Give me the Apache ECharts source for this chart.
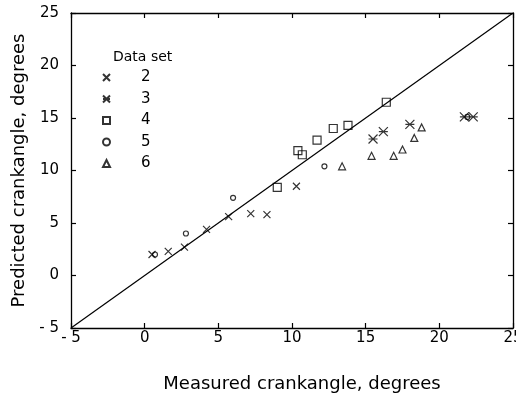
<!DOCTYPE html>
<html><head><meta charset="utf-8">
<script src="https://cdn.jsdelivr.net/npm/echarts@6/dist/echarts.min.js"></script>
<style>html,body{margin:0;padding:0;background:#fff}#c{width:516px;height:395px}</style>
</head><body><div id="c"></div>
<script>
const xTicks = [-5, 0, 5, 10, 15, 20, 25];
const yTicks = [-5, 0, 5, 10, 15, 20, 25];
const legendTitle = 'Data set';
const setNames = ['2', '3', '4', '5', '6'];
const set2 = [[0.5,2.0],[1.6,2.3],[2.7,2.7],[4.2,4.4],[5.7,5.6],[7.2,5.9],[8.3,5.8],[10.3,8.5]];
const set3 = [[15.5,13.0],[16.2,13.7],[18.0,14.4],[21.7,15.1],[22.3,15.1]];
const set4 = [[9.0,8.4],[10.4,11.9],[10.7,11.5],[11.7,12.9],[12.8,14.0],[13.8,14.3],[16.4,16.5]];
const set5 = [[0.7,2.0],[2.8,4.0],[6.0,7.4],[12.2,10.4],[21.9,15.1]];
const set6 = [[13.4,10.4],[15.4,11.4],[16.9,11.4],[17.5,12.0],[18.3,13.1],[18.8,14.1]];
const identityLine = [[-5,-5],[25,25]];
const xTitle = 'Measured crankangle, degrees';
const yTitle = 'Predicted crankangle, degrees';

const FONT = 'DejaVu Sans';
const symbols = [
  'path://M0,0L10,10M10,0L0,10',
  'path://M0,0L10,10M10,0L0,10M0,5L10,5',
  'rect',
  'circle',
  'triangle'
];
const sizes = [7, 9, 8, 5, 7];
const datasets = [set2, set3, set4, set5, set6];
const fmt = v => String(v).replace('-', '- ');

const baseAxis = {
  min: -5, max: 25, interval: 5,
  axisLine: {show: true, onZero: false, lineStyle: {color: '#000', width: 1.3}},
  axisTick: {show: true, inside: true, length: 5, lineStyle: {color: '#000', width: 1.2}},
  splitLine: {show: false}
};

const chart = echarts.init(document.getElementById('c'), null, {renderer: 'canvas'});
chart.setOption({
  animation: false,
  backgroundColor: '#fff',
  title: {
    text: legendTitle, left: 108, top: 45,
    textStyle: {fontFamily: FONT, fontSize: 14, fontWeight: 'normal', color: '#000'}
  },
  legend: {
    orient: 'vertical', left: 97, top: 65,
    itemWidth: 7, itemHeight: 7, itemGap: 6.5,
    data: setNames,
    textStyle: {fontFamily: FONT, fontSize: 15, color: '#000', padding: [0, 0, 0, 26]}
  },
  grid: {left: 71, right: 3, top: 13, bottom: 67, containLabel: false, outerBoundsMode: 'none'},
  xAxis: [
    Object.assign({}, baseAxis, {
      type: 'value', position: 'bottom',
      name: xTitle, nameLocation: 'middle', nameGap: 47,
      nameTextStyle: {fontFamily: FONT, fontSize: 18, color: '#000', padding: [0, 0, 0, 20]},
      axisLabel: {fontFamily: FONT, fontSize: 15, color: '#000', margin: 3, formatter: fmt}
    }),
    Object.assign({}, baseAxis, {type: 'value', position: 'top', axisLabel: {show: false}})
  ],
  yAxis: [
    Object.assign({}, baseAxis, {
      type: 'value', position: 'left',
      name: yTitle, nameLocation: 'middle', nameGap: 41,
      nameTextStyle: {fontFamily: FONT, fontSize: 18, color: '#000'},
      axisLabel: {fontFamily: FONT, fontSize: 15, color: '#000', margin: 12, formatter: fmt}
    }),
    Object.assign({}, baseAxis, {type: 'value', position: 'right', axisLabel: {show: false}})
  ],
  series: [
    {
      type: 'line', data: identityLine, symbol: 'none', silent: true,
      lineStyle: {color: '#000', width: 1.2}
    }
  ].concat(datasets.map((d, i) => ({
    type: 'scatter', name: setNames[i], data: d,
    symbol: symbols[i], symbolSize: sizes[i],
    itemStyle: {color: 'rgba(0,0,0,0)', borderColor: '#000', borderWidth: 1.2}
  })))
});
</script></body></html>
